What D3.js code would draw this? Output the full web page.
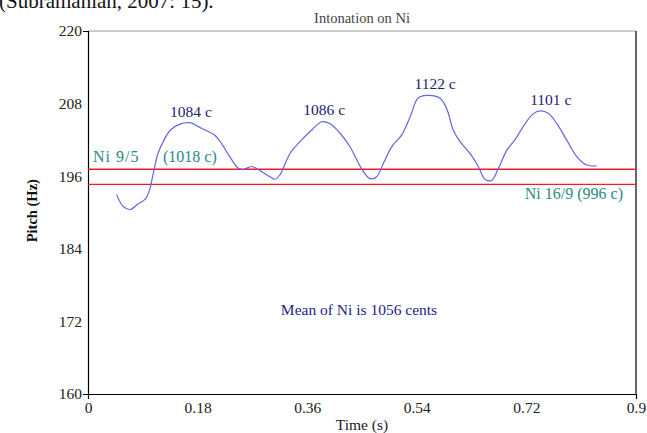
<!DOCTYPE html>
<html><head><meta charset="utf-8">
<script src="https://cdn.jsdelivr.net/npm/d3@7"></script>
<style>
body{margin:0;background:#fff}
svg{display:block}
text{font-family:"Liberation Serif","Times New Roman",serif}
</style>
</head><body>
<svg id="chart" width="647" height="433"></svg>
<script>
// Pitch contour of the note Ni (time in seconds, pitch in Hz)
const timeS = [0.047,0.057,0.069,0.082,0.094,0.101,0.105,0.109,0.115,0.124,0.135,0.151,0.169,0.181,0.195,0.208,0.220,0.233,0.247,0.255,0.269,0.286,0.299,0.307,0.315,0.332,0.348,0.367,0.384,0.397,0.414,0.430,0.449,0.463,0.474,0.485,0.499,0.515,0.529,0.542,0.556,0.578,0.589,0.600,0.611,0.627,0.641,0.652,0.663,0.674,0.688,0.701,0.718,0.731,0.742,0.756,0.770,0.786,0.803,0.819,0.835];
const pitchHz = [193.0,191.1,190.5,191.4,192.2,193.7,195.4,197.3,199.8,201.8,203.6,204.6,204.8,204.2,203.5,202.8,201.3,199.2,197.3,197.1,197.6,196.7,195.9,195.5,196.2,199.8,201.7,203.6,205.0,204.7,203.1,200.9,197.3,195.6,195.9,198.1,200.9,202.8,205.8,208.9,209.35,208.9,207.2,203.6,201.7,199.8,197.6,195.5,195.3,197.3,200.3,202.0,204.7,206.3,206.8,206.4,204.7,202.0,199.2,197.85,197.7];

// Tonic (Sa) frequency used to convert cents to Hz
const saHz = 109.5;

// Oscillation peaks, in cents above Sa
const peakLabelTimes = [0.169, 0.388, 0.570, 0.760];
const peakCents = [1084, 1086, 1122, 1101];

// Reference intervals for Ni
const refNames = ["Ni 9/5", "Ni 16/9"];
const refCents = [1018, 996];

const meanCents = 1056;

const xTicks = [0, 0.18, 0.36, 0.54, 0.72, 0.9];
const yTicks = [160, 172, 184, 196, 208, 220];

const centsToHz = c => saHz * Math.pow(2, c / 1200);

const svg = d3.select("#chart");
const m = {left: 88, right: 11, top: 31, bottom: 39};
const W = 647, H = 433;

const x = d3.scaleLinear().domain([0, 0.9]).range([m.left, W - m.right]);
const y = d3.scaleLinear().domain([160, 220]).range([H - m.bottom, m.top]);

// citation line running off the top of the page
svg.append("text").attr("x", -1).attr("y", 8)
  .attr("font-size", 21).attr("fill", "#111")
  .text("(Subramanian, 2007: 15).");

svg.append("text").attr("x", (x(0) + x(0.9)) / 2).attr("y", 23)
  .attr("text-anchor", "middle").attr("font-size", 14.5).attr("fill", "#444")
  .text("Intonation on Ni");

// frame: top edge grey, right edge black
svg.append("line").attr("x1", x(0)).attr("x2", x(0.9)).attr("y1", y(220)).attr("y2", y(220))
  .attr("stroke", "#9a9a9a").attr("stroke-width", 1);
svg.append("line").attr("x1", x(0.9)).attr("x2", x(0.9)).attr("y1", y(220)).attr("y2", y(160))
  .attr("stroke", "#000").attr("stroke-width", 1.2);

const fmtX = d => d === 0 ? "0" : String(d);
const xAxis = svg.append("g").attr("transform", `translate(0,${y(160)})`)
  .call(d3.axisBottom(x).tickValues(xTicks).tickFormat(fmtX).tickSizeInner(0).tickSizeOuter(5).tickPadding(8));
const yAxis = svg.append("g").attr("transform", `translate(${x(0)},0)`)
  .call(d3.axisLeft(y).tickValues(yTicks).tickSizeInner(0).tickSizeOuter(5).tickPadding(6));
[xAxis, yAxis].forEach(g => {
  g.select(".domain").attr("stroke", "#000").attr("stroke-width", 1.2);
  g.selectAll("text").attr("font-size", 15.5).attr("fill", "#222")
    .attr("font-family", "'Liberation Serif','Times New Roman',serif");
});

svg.append("text").attr("x", (x(0) + x(0.9)) / 2).attr("y", 430)
  .attr("text-anchor", "middle").attr("font-size", 15.5).attr("fill", "#222")
  .text("Time (s)");
svg.append("text").attr("transform", `translate(37,${y(190.3)}) rotate(-90)`)
  .attr("text-anchor", "middle").attr("font-size", 14.5).attr("font-weight", "bold").attr("fill", "#111")
  .text("Pitch (Hz)");

// reference interval lines
svg.selectAll("line.ref").data(refCents).join("line").attr("class", "ref")
  .attr("x1", x(0)).attr("x2", x(0.9))
  .attr("y1", d => y(centsToHz(d))).attr("y2", d => y(centsToHz(d)))
  .attr("stroke", "#ee1c24").attr("stroke-width", 1.4);

const teal = "#2b8a84";
svg.append("text").attr("x", x(0) + 5).attr("y", y(centsToHz(refCents[0])) - 7)
  .attr("font-size", 16).attr("fill", teal).attr("letter-spacing", 1)
  .text(refNames[0]);
svg.append("text").attr("x", x(0) + 75).attr("y", y(centsToHz(refCents[0])) - 7)
  .attr("font-size", 16).attr("fill", teal).text(`(${refCents[0]} c)`);
svg.append("text").attr("x", x(0.9) - 13).attr("y", y(centsToHz(refCents[1])) + 15)
  .attr("text-anchor", "end").attr("font-size", 16).attr("fill", teal)
  .text(`${refNames[1]} (${refCents[1]} c)`);

// pitch contour
const pts = timeS.map((t, i) => [t, pitchHz[i]]);
svg.append("path").datum(pts)
  .attr("fill", "none").attr("stroke", "#6464e6").attr("stroke-width", 1.2)
  .attr("d", d3.line().x(d => x(d[0])).y(d => y(d[1])).curve(d3.curveCatmullRom.alpha(0.5)));

// peak annotations
svg.selectAll("text.peak").data(peakCents).join("text").attr("class", "peak")
  .attr("x", (d, i) => x(peakLabelTimes[i]))
  .attr("y", d => y(centsToHz(d)) - 6)
  .attr("text-anchor", "middle").attr("font-size", 15.5).attr("fill", "#1c1c6e")
  .text(d => `${d} c`);

svg.append("text").attr("x", (x(0) + x(0.9)) / 2 - 3).attr("y", y(173.1))
  .attr("text-anchor", "middle").attr("font-size", 15.5).attr("fill", "#23238a")
  .text(`Mean of Ni is ${meanCents} cents`);
</script>
</body></html>
